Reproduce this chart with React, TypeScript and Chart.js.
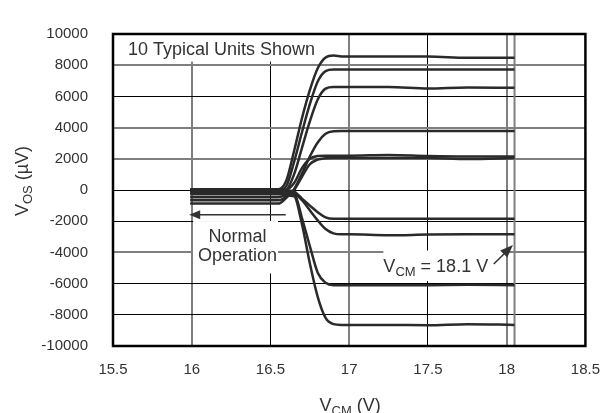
import { useEffect, useRef } from 'react';
import { Chart, registerables } from 'chart.js';

Chart.register(...registerables);

// Common-mode voltage sample points (V)
const vcm = [15.99, 16.5, 16.55, 16.6, 16.65, 16.7, 16.75, 16.8, 16.85, 16.9, 16.95, 17.0, 17.25, 17.5, 17.75, 18.05];

// Offset voltage of 10 typical units (µV)
const unit1 = [50, 50, 50, 600, 2500, 4600, 6400, 7800, 8500, 8620, 8560, 8550, 8550, 8550, 8470, 8470];
const unit2 = [0, 0, 0, 250, 1800, 3700, 5500, 6950, 7620, 7720, 7720, 7720, 7720, 7720, 7720, 7720];
const unit3 = [-100, -100, -100, 0, 1000, 2700, 4400, 5800, 6500, 6600, 6600, 6600, 6600, 6500, 6570, 6550];
const unit4 = [-870, -870, -870, -500, 50, 1050, 2150, 3050, 3600, 3760, 3780, 3780, 3780, 3780, 3780, 3780];
const unit5 = [30, 30, 30, 30, 450, 1400, 2000, 2180, 2200, 2200, 2200, 2200, 2250, 2180, 2150, 2150];
const unit6 = [-660, -660, -660, -450, 0, 850, 1650, 1950, 2030, 2050, 2050, 2050, 2050, 2050, 1980, 2050];
const unit7 = [-30, -30, -30, -30, -100, -550, -1000, -1420, -1760, -1850, -1850, -1850, -1850, -1850, -1850, -1850];
const unit8 = [-275, -275, -275, -275, -250, -650, -1300, -1950, -2500, -2780, -2840, -2840, -2900, -2860, -2840, -2840];
const unit9 = [-150, -150, -150, -120, -200, -1800, -3600, -5300, -5950, -6100, -6100, -6100, -6100, -6100, -6080, -6100];
const unit10 = [-460, -460, -460, -350, -400, -2200, -4700, -6850, -8200, -8600, -8650, -8650, -8650, -8670, -8600, -8650];

const units = [unit1, unit2, unit3, unit4, unit5, unit6, unit7, unit8, unit9, unit10];

const xTickValues = [15.5, 16, 16.5, 17, 17.5, 18, 18.5];
const yTickValues = [-10000, -8000, -6000, -4000, -2000, 0, 2000, 4000, 6000, 8000, 10000];
const grayYGrid = [8000, 4000, 2000, -4000];
const markerVcm = 18.05;

const FONT = '"Liberation Sans", Arial, Helvetica, sans-serif';
const TEXT = '#333333';

type Seg = { t: string; sub?: boolean };

function drawRich(ctx: CanvasRenderingContext2D, segs: Seg[], x: number, y: number, align: 'left' | 'center') {
  const main = `18px ${FONT}`;
  const small = `13px ${FONT}`;
  let total = 0;
  for (const s of segs) {
    ctx.font = s.sub ? small : main;
    total += ctx.measureText(s.t).width;
  }
  let cx = align === 'center' ? x - total / 2 : x;
  ctx.textAlign = 'left';
  ctx.textBaseline = 'alphabetic';
  for (const s of segs) {
    ctx.font = s.sub ? small : main;
    ctx.fillText(s.t, cx, s.sub ? y + 4 : y);
    cx += ctx.measureText(s.t).width;
  }
}

function arrowHead(ctx: CanvasRenderingContext2D, x1: number, y1: number, x2: number, y2: number, len: number, half: number) {
  const ang = Math.atan2(y2 - y1, x2 - x1);
  const bx = x2 - len * Math.cos(ang);
  const by = y2 - len * Math.sin(ang);
  ctx.beginPath();
  ctx.moveTo(x2, y2);
  ctx.lineTo(bx + half * Math.sin(ang), by - half * Math.cos(ang));
  ctx.lineTo(bx - half * Math.sin(ang), by + half * Math.cos(ang));
  ctx.closePath();
  ctx.fill();
}

const overlay = {
  id: 'overlay',
  beforeDatasetsDraw(chart: any) {
    const { ctx, chartArea: a, scales } = chart;
    const x = scales.x;
    const y = scales.y;
    ctx.save();
    ctx.fillStyle = '#ffffff';
    // box behind "10 Typical Units Shown"
    ctx.fillRect(a.left, a.top, x.getPixelForValue(16.845) - a.left, y.getPixelForValue(8230) - a.top);
    // box behind "Normal Operation"
    const n1 = x.getPixelForValue(16.008), n2 = x.getPixelForValue(16.548);
    const ny1 = y.getPixelForValue(-1990), ny2 = y.getPixelForValue(-5350);
    ctx.fillRect(n1, ny1, n2 - n1, ny2 - ny1);
    // box behind VCM label
    const v1 = x.getPixelForValue(17.217), v2 = x.getPixelForValue(17.974);
    const vy1 = y.getPixelForValue(-3880), vy2 = y.getPixelForValue(-5840);
    ctx.fillRect(v1, vy1, v2 - v1, vy2 - vy1);
    // marker line at VCM = 18.1 V
    const mx = x.getPixelForValue(markerVcm);
    ctx.strokeStyle = '#7f7f7f';
    ctx.lineWidth = 2;
    ctx.beginPath();
    ctx.moveTo(mx, a.top);
    ctx.lineTo(mx, a.bottom);
    ctx.stroke();
    ctx.restore();
  },
  afterDatasetsDraw(chart: any) {
    const { ctx, chartArea: a, scales } = chart;
    const x = scales.x;
    const y = scales.y;
    ctx.save();
    // frame
    ctx.strokeStyle = '#000000';
    ctx.lineWidth = 2.5;
    ctx.strokeRect(a.left, a.top, a.right - a.left, a.bottom - a.top);

    ctx.fillStyle = TEXT;
    ctx.strokeStyle = TEXT;
    drawRich(ctx, [{ t: '10 Typical Units Shown' }], a.left + 15, a.top + 21, 'left');

    const nx = x.getPixelForValue(16.29);
    drawRich(ctx, [{ t: 'Normal' }], nx, y.getPixelForValue(-3330), 'center');
    drawRich(ctx, [{ t: 'Operation' }], nx, y.getPixelForValue(-4560), 'center');

    // Normal operation arrow
    const ax1 = x.getPixelForValue(16.597), ax2 = x.getPixelForValue(15.984);
    const ay = y.getPixelForValue(-1580);
    ctx.lineWidth = 1.5;
    ctx.beginPath();
    ctx.moveTo(ax1, ay);
    ctx.lineTo(ax2 + 6, ay);
    ctx.stroke();
    arrowHead(ctx, ax1, ay, ax2, ay, 11, 4.5);

    // VCM label and arrow
    drawRich(ctx, [{ t: 'V' }, { t: 'CM', sub: true }, { t: ' = 18.1 V' }], x.getPixelForValue(17.217), y.getPixelForValue(-5230), 'left');
    const tx = x.getPixelForValue(17.918), ty = y.getPixelForValue(-4740);
    const hx = x.getPixelForValue(18.04), hy = y.getPixelForValue(-3520);
    ctx.lineWidth = 1.5;
    ctx.beginPath();
    ctx.moveTo(tx, ty);
    ctx.lineTo(hx - 6, hy + 6);
    ctx.stroke();
    arrowHead(ctx, tx, ty, hx, hy, 13, 5);

    // axis titles
    drawRich(ctx, [{ t: 'V' }, { t: 'CM', sub: true }, { t: ' (V)' }], (a.left + a.right) / 2 + 1, 411, 'center');
    ctx.translate(28, 181);
    ctx.rotate(-Math.PI / 2);
    drawRich(ctx, [{ t: 'V' }, { t: 'OS', sub: true }, { t: ' (µV)' }], 0, 0, 'center');
    ctx.restore();
  },
};

export default function App() {
  const ref = useRef<HTMLCanvasElement | null>(null);

  useEffect(() => {
    if (!ref.current) return;
    const chart = new Chart(ref.current, {
      type: 'line',
      data: {
        datasets: units.map((u, i) => ({
          label: `Unit ${i + 1}`,
          data: vcm.map((v, j) => ({ x: v, y: u[j] })),
          borderColor: '#2a2a2a',
          borderWidth: 2.5,
          pointRadius: 0,
          fill: false,
          cubicInterpolationMode: 'monotone' as const,
        })),
      },
      options: {
        responsive: false,
        animation: false,
        layout: { padding: { top: 19, right: 18, left: 0, bottom: 0 } },
        plugins: { legend: { display: false }, tooltip: { enabled: false } },
        scales: {
          x: {
            type: 'linear',
            min: 15.5,
            max: 18.5,
            afterFit: (s: any) => { s.height = 67; },
            afterBuildTicks: (s: any) => { s.ticks = xTickValues.map((v) => ({ value: v })); },
            ticks: {
              padding: 15,
              color: TEXT,
              font: { family: FONT, size: 15 },
              callback: (v: any) => String(v),
              maxRotation: 0,
              autoSkip: false,
            },
            grid: {
              drawTicks: false,
              color: (c: any) => (Number.isInteger(c.tick?.value) ? '#7f7f7f' : '#000000'),
              lineWidth: (c: any) => (Number.isInteger(c.tick?.value) ? 2 : 1),
            },
            border: { display: false },
          },
          y: {
            type: 'linear',
            min: -10000,
            max: 10000,
            afterFit: (s: any) => { s.width = 113; },
            afterBuildTicks: (s: any) => { s.ticks = yTickValues.map((v) => ({ value: v })); },
            ticks: {
              padding: 25,
              color: TEXT,
              font: { family: FONT, size: 15 },
              callback: (v: any) => String(v),
              autoSkip: false,
            },
            grid: {
              drawTicks: false,
              color: (c: any) => (grayYGrid.includes(c.tick?.value) ? '#7f7f7f' : '#000000'),
              lineWidth: (c: any) => (grayYGrid.includes(c.tick?.value) ? 2 : 1),
            },
            border: { display: false },
          },
        },
      },
      plugins: [overlay],
    } as any);
    return () => chart.destroy();
  }, []);

  return (
    <div style={{ position: 'absolute', left: 0, top: 0, width: 615, height: 413, background: '#fff' }}>
      <canvas ref={ref} width={615} height={413} style={{ width: 615, height: 413, display: 'block' }} />
    </div>
  );
}
